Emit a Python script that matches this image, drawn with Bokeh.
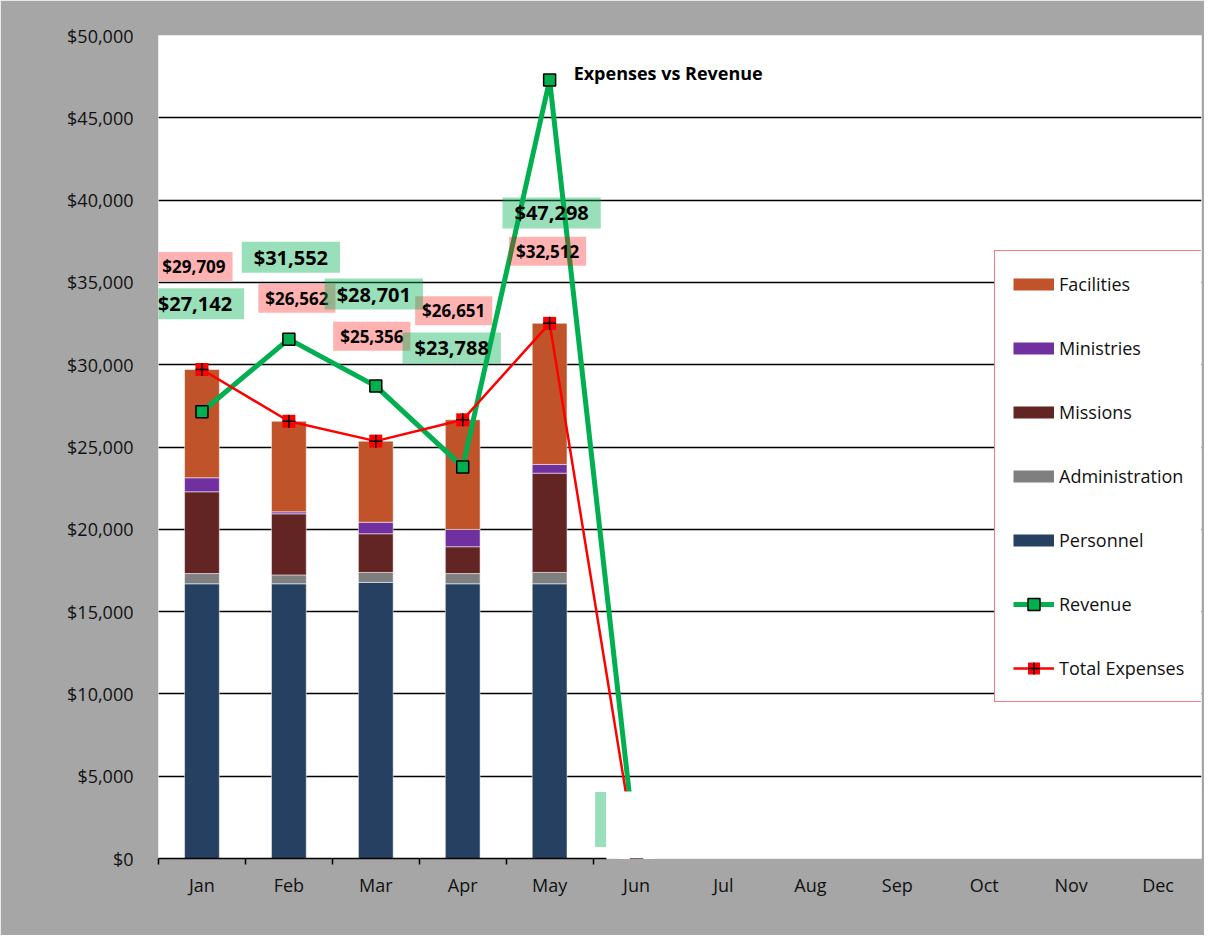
from bokeh.plotting import figure
from bokeh.models import (Range1d, FixedTicker, NumeralTickFormatter, LinearAxis,
                          Legend, LegendItem, Label, BoxAnnotation, ColumnDataSource)
from bokeh.embed import file_html
from bokeh.resources import INLINE

# ---------------- data ----------------
months = ["Jan", "Feb", "Mar", "Apr", "May", "Jun", "Jul", "Aug", "Sep", "Oct", "Nov", "Dec"]
personnel      = [16690, 16690, 16770, 16690, 16690, 0]
administration = [620, 540, 610, 620, 690, 0]
missions       = [4970, 3710, 2350, 1630, 6030, 0]
ministries     = [850, 120, 700, 1050, 530, 0]
facilities     = [6579, 5502, 4926, 6661, 8572, 0]
total_expenses = [29709, 26562, 25356, 26651, 32512, 0]
revenue        = [27142, 31552, 28701, 23788, 47298, 0]
y_ticks = list(range(0, 50001, 5000))

# ---------------- style ----------------
FONT = "Open Sans"
C_PERS, C_ADMIN, C_MISS, C_MIN, C_FAC = "#254061", "#7F7F7F", "#632523", "#7030A0", "#C0532A"
C_REV, C_EXP = "#00B050", "#FF0000"
# label offsets in pixels (dx, dy) -- manual placement as in the original
rev_off = [(-7, 108), (2, 82), (-2, 92), (-11, 119), (2, -133), (-10, 39)]
exp_off = [(-8, 103), (8, 123), (-4, 105), (-9, 109), (-2, 72), (20, 30)]

xs = [i + 1 for i in range(len(revenue))]
nan = float("nan")

p = figure(width=1204, height=935, x_range=Range1d(0.5, 12.5), y_range=Range1d(0, 50000),
           output_backend="svg", toolbar_location=None,
           min_border_left=158, min_border_right=3, min_border_top=35, min_border_bottom=77,
           background_fill_color="white", border_fill_color="#A6A6A6", outline_line_color=None)

# x axis 1: axis line + boundary tick marks (only up to where the white patch starts)
xa = p.xaxis[0]
xa.ticker = FixedTicker(ticks=[], minor_ticks=[x - 0.5 for x in xs])
xa.bounds = (0.5, 5.65)
xa.major_tick_line_color = None
xa.major_tick_out = 6
xa.major_tick_in = 0
xa.minor_tick_line_color = "black"
xa.minor_tick_line_width = 1.5
xa.minor_tick_out = 6
xa.minor_tick_in = 0
xa.axis_line_color = "black"
xa.axis_line_width = 1.5
xa.major_label_standoff = 0

# x axis 2: month labels
xb = LinearAxis(ticker=FixedTicker(ticks=[float(i + 1) for i in range(len(months))]),
                major_label_overrides={i + 1: m for i, m in enumerate(months)},
                axis_line_color=None, major_tick_line_color=None, minor_tick_line_color=None,
                major_tick_out=0, major_tick_in=0, major_label_standoff=8,
                major_label_text_font=FONT, major_label_text_font_size="18px",
                major_label_text_color="#111111")
p.add_layout(xb, "below")

p.yaxis.ticker = FixedTicker(ticks=y_ticks)
p.yaxis.formatter = NumeralTickFormatter(format="$0,0")
p.yaxis.axis_line_color = None
p.yaxis.major_tick_line_color = None
p.yaxis.minor_tick_line_color = None
p.yaxis.major_tick_out = 0
p.yaxis.major_label_standoff = 25
p.yaxis.major_label_text_font = FONT
p.yaxis.major_label_text_font_size = "18px"
p.yaxis.major_label_text_color = "#111111"

p.xgrid.grid_line_color = None
p.ygrid.ticker = FixedTicker(ticks=y_ticks[1:])   # the $0 line is the x axis itself
p.ygrid.grid_line_color = "black"
p.ygrid.grid_line_width = 1.5

# stacked bars
src = ColumnDataSource(dict(x=xs, Personnel=personnel, Administration=administration,
                            Missions=missions, Ministries=ministries, Facilities=facilities))
stack_names = ["Personnel", "Administration", "Missions", "Ministries", "Facilities"]
stack_colors = [C_PERS, C_ADMIN, C_MISS, C_MIN, C_FAC]
p.vbar_stack(stack_names, x="x", width=0.4, color=stack_colors, source=src,
             line_color="white", line_alpha=0.5, line_width=1)

# lines
rev_line = p.line(xs, revenue, line_color=C_REV, line_width=5)
rev_pts = p.scatter(xs, revenue, marker="square", size=12, fill_color=C_REV,
                    line_color="black", line_width=1.5)
exp_line = p.line(xs, total_expenses, line_color=C_EXP, line_width=2.5)
exp_sq = p.scatter(xs, total_expenses, marker="square", size=13, fill_color=C_EXP, line_color=None)
exp_cr = p.scatter(xs, total_expenses, marker="cross", size=13, line_color="black", line_width=1.5)

# data labels
for x, v, (dx, dy) in zip(xs, total_expenses, exp_off):
    p.add_layout(Label(x=x, y=v, x_offset=dx, y_offset=dy, text=f"${v:,}",
                       text_align="center", text_baseline="middle", text_font=FONT,
                       text_font_size="17px", text_font_style="bold", text_color="black",
                       background_fill_color=C_EXP, background_fill_alpha=0.3,
                       padding=(7, 3)))
for x, v, (dx, dy) in zip(xs, revenue, rev_off):
    pad = (20, 14) if v == 0 else (12, 2)
    p.add_layout(Label(x=x, y=v, x_offset=dx, y_offset=dy, text=f"${v:,}",
                       text_align="center", text_baseline="middle", text_font=FONT,
                       text_font_size="20px", text_font_style="bold", text_color="black",
                       background_fill_color=C_REV, background_fill_alpha=0.4,
                       padding=pad))

# chart title inside the plot area
p.add_layout(Label(x=5, y=50000, x_offset=24, y_offset=-37, text="Expenses vs Revenue",
                   text_align="left", text_baseline="middle", text_font=FONT,
                   text_font_size="18px", text_font_style="bold", text_color="black"))

# white patch covering the lower right part (as in the original picture)
p.add_layout(BoxAnnotation(left=5.65, top=4070, fill_color="white", fill_alpha=1, line_color=None))

# legend (proxy thick lines, never visible in the plot, for the bar swatches)
proxies = {}
for name, col in zip(stack_names, stack_colors):
    proxies[name] = p.line(x=[nan], y=[nan], line_color=col, line_width=12, line_cap="butt")
items = [LegendItem(label=n, renderers=[proxies[n]]) for n in
         ["Facilities", "Ministries", "Missions", "Administration", "Personnel"]]
items.append(LegendItem(label="Revenue", renderers=[rev_line, rev_pts]))
items.append(LegendItem(label="Total Expenses", renderers=[exp_line, exp_sq, exp_cr]))
legend = Legend(items=items, location=(836, 156), padding=18, spacing=34, margin=0,
                glyph_width=41, glyph_height=30, label_height=24, label_standoff=5,
                label_text_font=FONT, label_text_font_size="18px", label_text_color="#111111",
                border_line_color="#E00000", border_line_width=1.5,
                background_fill_color="white", background_fill_alpha=1)
p.add_layout(legend)

open("out.html", "w").write(file_html(p, INLINE))
